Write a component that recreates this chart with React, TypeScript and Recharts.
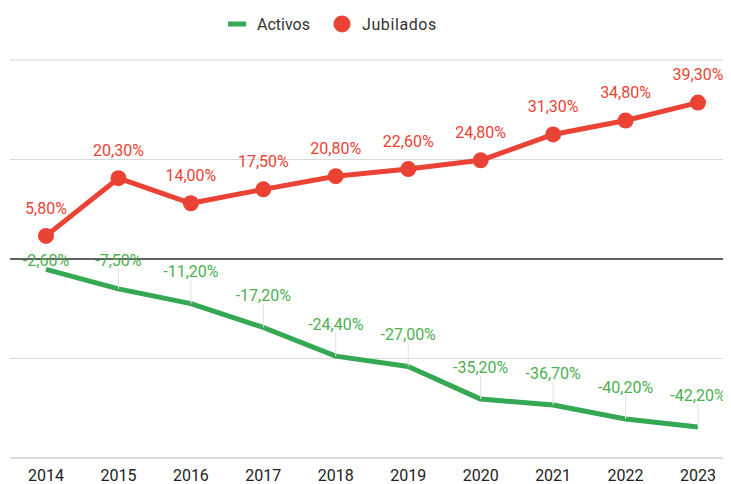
import React from 'react';
import { LineChart, Line, XAxis, YAxis, CartesianGrid, ReferenceLine, Legend, LabelList } from 'recharts';

const years = ['2014', '2015', '2016', '2017', '2018', '2019', '2020', '2021', '2022', '2023'];
const activos = [-2.6, -7.5, -11.2, -17.2, -24.4, -27.0, -35.2, -36.7, -40.2, -42.2];
const jubilados = [5.8, 20.3, 14.0, 17.5, 20.8, 22.6, 24.8, 31.3, 34.8, 39.3];
const yTicks = [-50, -25, 0, 25, 50];

const GREEN = '#34A853';
const RED = '#EA4335';
const FONT = 'Roboto, Arial, sans-serif';

const W = 731;
const H = 484;
const PLOT_TOP = 60;
const PLOT_BOTTOM_GAP = 26;
const PLOT_H = H - PLOT_TOP - PLOT_BOTTOM_GAP;
const ZERO_Y = PLOT_TOP + PLOT_H / 2;

const data = years.map((y, i) => ({ year: y, Activos: activos[i], Jubilados: jubilados[i] }));

const fmt = (v: number) => v.toFixed(2).replace('.', ',') + '%';

const GreenLabel = (props: any) => {
  const { x, y, value } = props;
  if (x == null || y == null) return null;
  let cy = y - 32;
  if (cy < ZERO_Y + 1) cy = ZERO_Y + 1;
  const bottom = cy + 9;
  return (
    <g>
      {y - bottom > 2 && <line x1={x} x2={x} y1={bottom} y2={y} stroke="#e0e0e0" strokeWidth={1} />}
      <text x={x} y={cy} dy="0.35em" textAnchor="middle" fill="#4CAF50" fontSize={16} fontFamily={FONT}>
        {fmt(value)}
      </text>
    </g>
  );
};

const RedLabel = (props: any) => {
  const { x, y, value } = props;
  if (x == null || y == null) return null;
  const cy = y - 28;
  return (
    <text x={x} y={cy} dy="0.35em" textAnchor="middle" fill={RED} fontSize={16} fontFamily={FONT}>
      {fmt(value)}
    </text>
  );
};

const LegendContent = () => (
  <div style={{ height: 60, display: 'flex', justifyContent: 'center', alignItems: 'flex-start', fontFamily: FONT, fontSize: 16, color: '#333', paddingRight: 76, boxSizing: 'border-box' }}>
    <div style={{ display: 'flex', alignItems: 'center', marginTop: 14, height: 20 }}>
      <svg width={18} height={20} style={{ marginRight: 11 }}>
        <line x1={0} x2={18} y1={10} y2={10} stroke={GREEN} strokeWidth={5} />
      </svg>
      <span>Activos</span>
      <svg width={18} height={20} style={{ marginLeft: 23, marginRight: 11 }}>
        <circle cx={9} cy={10} r={8.5} fill={RED} />
      </svg>
      <span style={{ letterSpacing: 0.6 }}>Jubilados</span>
    </div>
  </div>
);

export default function App() {
  return (
    <div style={{ marginLeft: -8, marginTop: -8, width: W, height: H, overflow: 'hidden', background: '#fff' }}>
      <LineChart width={W} height={H} data={data} margin={{ top: 0, right: 0, bottom: 0, left: 10 }}>
        <Legend verticalAlign="top" content={<LegendContent />} />
        <CartesianGrid vertical={false} stroke="#d9d9d9" strokeWidth={1} />
        <XAxis
          dataKey="year"
          padding={{ left: 36, right: 33 }}
          axisLine={{ stroke: '#cccccc' }}
          tickLine={false}
          tickMargin={6}
          height={PLOT_BOTTOM_GAP}
          tick={{ fill: '#222', fontSize: 16, fontFamily: FONT }}
          interval={0}
        />
        <YAxis hide domain={[-50, 50]} ticks={yTicks} />
        <ReferenceLine y={0} stroke="#333" strokeWidth={1.5} />
        <Line
          dataKey="Activos"
          stroke={GREEN}
          strokeWidth={5}
          dot={false}
          activeDot={false}
          isAnimationActive={false}
          strokeLinejoin="round"
        >
          <LabelList dataKey="Activos" content={<GreenLabel />} />
        </Line>
        <Line
          dataKey="Jubilados"
          stroke={RED}
          strokeWidth={5}
          dot={{ r: 8, fill: RED, stroke: 'none' }}
          activeDot={false}
          isAnimationActive={false}
          strokeLinejoin="round"
        >
          <LabelList dataKey="Jubilados" content={<RedLabel />} />
        </Line>
      </LineChart>
    </div>
  );
}
